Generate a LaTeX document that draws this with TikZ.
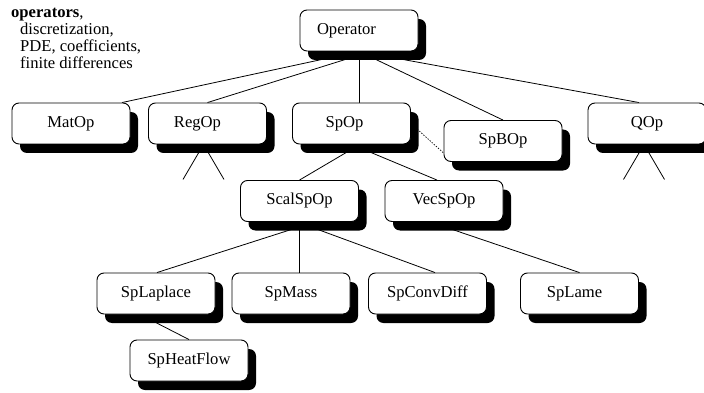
\documentclass[tikz,border=0pt]{standalone}
\usepackage{fontspec}
\setmainfont{Liberation Serif}
\usetikzlibrary{shadows,backgrounds,calc}
\tikzset{
  opbox/.style={draw=black, line width=0.9pt, fill=white, rounded corners=7pt,
    minimum width=118pt, minimum height=41pt, inner sep=0pt,
    font=\fontsize{16.6}{18}\selectfont,
    drop shadow={shadow xshift=8pt, shadow yshift=-9pt, fill=black, opacity=1, draw=none}},
  conn/.style={line width=0.8pt, black},
  dotconn/.style={line width=0.7pt, dash pattern=on 1.4pt off 1.4pt},
}
\begin{document}
\begin{tikzpicture}[x=1pt, y=-1pt]
\useasboundingbox (0,0) rectangle (704,393);

\node (title) [anchor=north west, align=left, inner sep=0pt,
  font=\fontsize{16.6}{17.1}\selectfont] at (11,8)
  {\textbf{operators},\\\hspace*{9pt}discretization,\\\hspace*{9pt}PDE, coefficients,\\\hspace*{9pt}finite differences};

\node[opbox] (op)    at (359,30.5)  {Operator\hspace*{25pt}};
\node[opbox] (matop) at (71,123.5)  {MatOp};
\node[opbox] (regop) at (207.5,123.5) {RegOp\hspace*{20pt}};
\node[opbox] (spop)  at (351.5,123.5) {SpOp\hspace*{14pt}};
\node[opbox] (spbop) at (503,141)   {SpBOp};
\node[opbox] (qop)   at (647,123.5) {QOp};
\node[opbox] (scal)  at (299.5,201) {ScalSpOp};
\node[opbox] (vec)   at (444,201)   {VecSpOp};
\node[opbox] (lap)   at (156,293.5) {SpLaplace};
\node[opbox] (mass)  at (291,293.5) {SpMass};
\node[opbox] (conv)  at (427.5,293.5) {SpConvDiff};
\node[opbox] (lame)  at (579.5,293.5) {SpLame\hspace*{10pt}};
\node[opbox] (heat)  at (189,360.5) {SpHeatFlow};

\coordinate (regapex) at ($(regop.south)+(-4,0)$);
\coordinate (regl) at ($(regapex)+(-20.5,35)$);
\coordinate (regr) at ($(regapex)+(20.5,35)$);
\coordinate (qapex) at ($(qop.south)+(-3,0)$);
\coordinate (ql) at ($(qapex)+(-20.5,35)$);
\coordinate (qr) at ($(qapex)+(20.5,35)$);

\begin{scope}[on background layer]
  \draw[conn] (op.south) -- ($(matop.north)+(51,0)$);
  \draw[conn] ($(op.south)+(12,0)$) -- (regop.north);
  \draw[conn] (op.south) -- ($(spop.north)+(7.5,0)$);
  \draw[conn] (op.south) -- (spbop.north);
  \draw[conn] (op.south) -- ($(qop.north)+(-8,0)$);
  \draw[dotconn] (spop.east) -- ($(spbop.west)+(0,12)$);
  \draw[conn] ($(spop.south)+(5,2)$) -- (scal.north);
  \draw[conn] ($(spop.south)+(5,2)$) -- ($(vec.north)+(-7,0)$);
  \draw[conn] ($(scal.south)+(6,3)$) -- ($(lap.north)+(1,0)$);
  \draw[conn] (scal.south) -- ($(mass.north)+(8.5,0)$);
  \draw[conn] ($(scal.south)+(6,3)$) -- ($(conv.north)+(7.5,0)$);
  \draw[conn] ($(vec.south)+(-8,2)$) -- (lame.north);
  \draw[conn] ($(lap.south)+(-16,0)$) -- (heat.north);
  \draw[conn] (regl) -- (regapex) -- (regr);
  \draw[conn] (ql) -- (qapex) -- (qr);
\end{scope}
\end{tikzpicture}
\end{document}
